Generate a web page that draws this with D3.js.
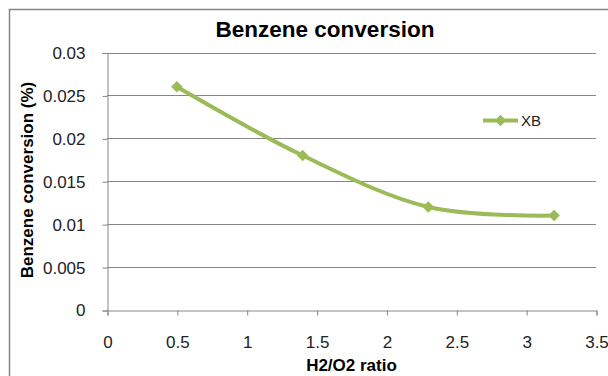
<!DOCTYPE html>
<html><head><meta charset="utf-8">
<script src="https://cdn.jsdelivr.net/npm/d3@7"></script>
<style>body{margin:0;background:#fff}svg{display:block}</style>
</head><body>
<script>
const xValues = [0.5, 1.4, 2.3, 3.2];
const xbValues = [0.026, 0.018, 0.012, 0.011];
const xTicks = [0, 0.5, 1, 1.5, 2, 2.5, 3, 3.5];
const yTicks = [0, 0.005, 0.01, 0.015, 0.02, 0.025, 0.03];
const seriesName = "XB";
const chartTitle = "Benzene conversion";
const xTitle = "H2/O2 ratio";
const yTitle = "Benzene conversion (%)";

(function () {
const W = 608, H = 376;
const pLeft = 107, pRight = 596, pTop = 52.5, pBottom = 310;
const green = "#9bbb59", grid = "#868686";
const font = "'Liberation Sans', Arial, sans-serif";

const svg = d3.select("body").append("svg").attr("width", W).attr("height", H);
svg.append("rect").attr("x", 0).attr("y", 0).attr("width", W).attr("height", H).attr("fill", "#fff");
svg.append("rect").attr("x", 9.5).attr("y", 9.5).attr("width", W + 20).attr("height", H + 20)
  .attr("fill", "none").attr("stroke", grid).attr("stroke-width", 1.5);

const x = d3.scaleLinear().domain([0, 3.5]).range([pLeft, pRight]);
const y = d3.scaleLinear().domain([0, 0.03]).range([pBottom, pTop]);

svg.append("g").selectAll("line").data(yTicks.filter(d => d > 0)).join("line")
  .attr("x1", pLeft).attr("x2", pRight)
  .attr("y1", d => Math.round(y(d)) + 0.5).attr("y2", d => Math.round(y(d)) + 0.5)
  .attr("stroke", grid).attr("stroke-width", 1);

const yAxis = d3.axisLeft(y).tickValues(yTicks).tickSize(5).tickPadding(17).tickFormat(d => String(+d.toFixed(3)));
const gy = svg.append("g").attr("transform", `translate(${pLeft + 0.5},0.5)`).call(yAxis);
gy.select(".domain").attr("stroke", grid);
gy.selectAll(".tick line").attr("stroke", grid);
gy.selectAll("text").attr("font-family", font).attr("font-size", 17).attr("fill", "#222");

const xAxis = d3.axisBottom(x).tickValues(xTicks).tickSize(5).tickPadding(20).tickFormat(d => String(d));
const gx = svg.append("g").attr("transform", `translate(0.5,${Math.round(pBottom) + 0.5})`).call(xAxis);
gx.select(".domain").attr("stroke", grid);
gx.selectAll(".tick line").attr("stroke", grid);
gx.selectAll("text").attr("font-family", font).attr("font-size", 17).attr("fill", "#222");

const data = xValues.map((v, i) => ({x: v, y: xbValues[i]}));
const line = d3.line().x(d => x(d.x)).y(d => y(d.y)).curve(d3.curveCatmullRom.alpha(0));
svg.append("path").datum(data).attr("d", line).attr("fill", "none")
  .attr("stroke", green).attr("stroke-width", 4).attr("stroke-linejoin", "round");
svg.append("g").selectAll("path").data(data).join("path")
  .attr("d", d3.symbol().type(d3.symbolSquare).size(66)())
  .attr("transform", d => `translate(${x(d.x)},${y(d.y)}) rotate(45)`)
  .attr("fill", green);

const lg = svg.append("g");
lg.append("line").attr("x1", 483).attr("x2", 518).attr("y1", 120.5).attr("y2", 120.5)
  .attr("stroke", green).attr("stroke-width", 4);
lg.append("path").attr("d", d3.symbol().type(d3.symbolSquare).size(66)())
  .attr("transform", "translate(500.5,120.5) rotate(45)").attr("fill", green);
lg.append("text").attr("x", 521).attr("y", 126).text(seriesName)
  .attr("font-family", font).attr("font-size", 15).attr("fill", "#222");

svg.append("text").attr("x", 325).attr("y", 37).attr("text-anchor", "middle").text(chartTitle)
  .attr("font-family", font).attr("font-size", 22.5).attr("font-weight", "bold").attr("fill", "#000");
svg.append("text").attr("x", 351.5).attr("y", 371).attr("text-anchor", "middle").text(xTitle)
  .attr("font-family", font).attr("font-size", 17).attr("font-weight", "bold").attr("fill", "#000");
svg.append("text").attr("transform", "translate(33,180) rotate(-90)").attr("text-anchor", "middle").text(yTitle)
  .attr("font-family", font).attr("font-size", 17).attr("font-weight", "bold").attr("fill", "#000");
})();
</script>
</body></html>
